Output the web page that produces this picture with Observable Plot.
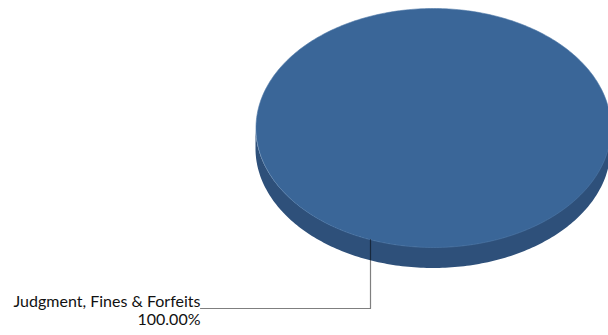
<!DOCTYPE html>
<html>
<head>
<meta charset="utf-8">
<script src="https://cdn.jsdelivr.net/npm/d3@7"></script>
<script src="https://cdn.jsdelivr.net/npm/@observablehq/plot@0.6"></script>
<style>
  html, body { margin: 0; padding: 0; background: #fff; }
  #chart { width: 608px; height: 335px; overflow: hidden; }
</style>
</head>
<body>
<div id="chart"></div>
<script>
// ---- data ----
const categories = ["Judgment, Fines & Forfeits"];
const values = [100];
const percentLabels = ["100.00%"];

// ---- layout (in chart units) ----
const W = 608, H = 335;
const cx = 433, cy = 127.5, rx = 177.5, ry = 119.5, depth = 21;
const topColor = "#3a6698";
const sideColor = "#2e507a";

const total = d3.sum(values);
const N = 360;

// top face of each slice: polygon from center along arc
const slices = [];
let acc = 0;
values.forEach((v, i) => {
  const a0 = acc / total * 2 * Math.PI;
  acc += v;
  const a1 = acc / total * 2 * Math.PI;
  const pts = [];
  if (v < total) pts.push({x: cx, y: cy, k: i});
  const n = Math.max(2, Math.round(N * (a1 - a0) / (2 * Math.PI)));
  for (let j = 0; j <= n; j++) {
    const t = a0 + (a1 - a0) * j / n;
    pts.push({x: cx + rx * Math.cos(t), y: cy + ry * Math.sin(t), k: i});
  }
  slices.push(...pts);
});

// side band (front half of the disk)
const side = d3.range(0, N / 2 + 1).map(j => {
  const t = Math.PI * j / (N / 2);
  const x = cx + rx * Math.cos(t);
  const yb = cy + ry * Math.sin(t);
  return {x, y1: yb, y2: yb + depth};
});

// leader line for label
const anchorX = 370;
const anchorY = cy + ry * Math.sqrt(1 - ((anchorX - cx) / rx) ** 2);
const elbowY = 308, labelX = 200;
const leader = [
  {x: anchorX, y: anchorY},
  {x: anchorX, y: elbowY},
  {x: labelX, y: elbowY}
];
const labels = categories.map((c, i) => ({x: labelX, y: elbowY, text: c + "\n" + percentLabels[i]}));

const chart = Plot.plot({
  width: W,
  height: H,
  margin: 0,
  x: {domain: [0, W], range: [0, W], axis: null},
  y: {domain: [0, H], range: [0, H], axis: null},
  style: {background: "#fff", fontFamily: "Lato, sans-serif"},
  marks: [
    Plot.areaY(side, {x: "x", y1: "y1", y2: "y2", fill: sideColor, curve: "linear"}),
    Plot.line(slices, {x: "x", y: "y", z: "k", fill: topColor, stroke: "#4f79a8", strokeWidth: 0.6, curve: "linear-closed"}),
    Plot.line(leader, {x: "x", y: "y", stroke: "#000", strokeOpacity: 0.5, strokeWidth: 1.2}),
    Plot.text(labels, {x: "x", y: "y", text: "text", textAnchor: "end", lineAnchor: "middle", dy: 2, lineHeight: 1.125, fontSize: 16, fill: "#111"})
  ]
});
document.getElementById("chart").appendChild(chart);
</script>
</body>
</html>
